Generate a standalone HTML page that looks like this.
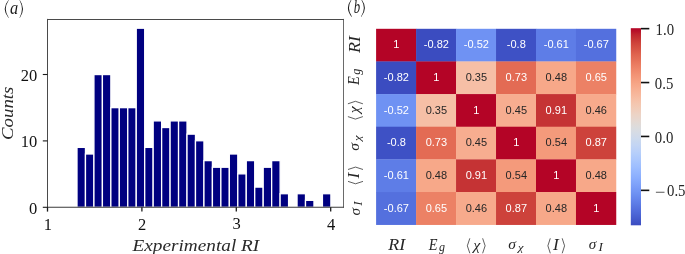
<!DOCTYPE html>
<html><head><meta charset="utf-8"><style>
html,body{margin:0;padding:0;background:#fff;overflow:hidden;width:685px;height:254px;}
svg{display:block;will-change:transform;}
</style></head><body>
<svg width="685" height="254" viewBox="0 0 685 254">
<rect x="77.00" y="147.37" width="8.463" height="59.93" fill="#000080" stroke="#fff" stroke-width="1.3"/>
<rect x="85.46" y="153.99" width="8.463" height="53.31" fill="#000080" stroke="#fff" stroke-width="1.3"/>
<rect x="93.93" y="74.55" width="8.463" height="132.75" fill="#000080" stroke="#fff" stroke-width="1.3"/>
<rect x="102.39" y="74.55" width="8.463" height="132.75" fill="#000080" stroke="#fff" stroke-width="1.3"/>
<rect x="110.85" y="107.65" width="8.463" height="99.65" fill="#000080" stroke="#fff" stroke-width="1.3"/>
<rect x="119.31" y="107.65" width="8.463" height="99.65" fill="#000080" stroke="#fff" stroke-width="1.3"/>
<rect x="127.78" y="107.65" width="8.463" height="99.65" fill="#000080" stroke="#fff" stroke-width="1.3"/>
<rect x="136.24" y="28.21" width="8.463" height="179.09" fill="#000080" stroke="#fff" stroke-width="1.3"/>
<rect x="144.70" y="147.37" width="8.463" height="59.93" fill="#000080" stroke="#fff" stroke-width="1.3"/>
<rect x="153.17" y="120.89" width="8.463" height="86.41" fill="#000080" stroke="#fff" stroke-width="1.3"/>
<rect x="161.63" y="127.51" width="8.463" height="79.79" fill="#000080" stroke="#fff" stroke-width="1.3"/>
<rect x="170.09" y="120.89" width="8.463" height="86.41" fill="#000080" stroke="#fff" stroke-width="1.3"/>
<rect x="178.56" y="120.89" width="8.463" height="86.41" fill="#000080" stroke="#fff" stroke-width="1.3"/>
<rect x="187.02" y="134.13" width="8.463" height="73.17" fill="#000080" stroke="#fff" stroke-width="1.3"/>
<rect x="195.48" y="140.75" width="8.463" height="66.55" fill="#000080" stroke="#fff" stroke-width="1.3"/>
<rect x="203.94" y="160.61" width="8.463" height="46.69" fill="#000080" stroke="#fff" stroke-width="1.3"/>
<rect x="212.41" y="167.23" width="8.463" height="40.07" fill="#000080" stroke="#fff" stroke-width="1.3"/>
<rect x="220.87" y="167.23" width="8.463" height="40.07" fill="#000080" stroke="#fff" stroke-width="1.3"/>
<rect x="229.33" y="153.99" width="8.463" height="53.31" fill="#000080" stroke="#fff" stroke-width="1.3"/>
<rect x="237.80" y="173.85" width="8.463" height="33.45" fill="#000080" stroke="#fff" stroke-width="1.3"/>
<rect x="246.26" y="160.61" width="8.463" height="46.69" fill="#000080" stroke="#fff" stroke-width="1.3"/>
<rect x="254.72" y="187.09" width="8.463" height="20.21" fill="#000080" stroke="#fff" stroke-width="1.3"/>
<rect x="263.19" y="167.23" width="8.463" height="40.07" fill="#000080" stroke="#fff" stroke-width="1.3"/>
<rect x="271.65" y="160.61" width="8.463" height="46.69" fill="#000080" stroke="#fff" stroke-width="1.3"/>
<rect x="280.11" y="193.71" width="8.463" height="13.59" fill="#000080" stroke="#fff" stroke-width="1.3"/>
<rect x="297.04" y="193.71" width="8.463" height="13.59" fill="#000080" stroke="#fff" stroke-width="1.3"/>
<rect x="305.50" y="200.33" width="8.463" height="6.97" fill="#000080" stroke="#fff" stroke-width="1.3"/>
<rect x="322.43" y="193.71" width="8.463" height="13.59" fill="#000080" stroke="#fff" stroke-width="1.3"/>
<line x1="47.5" y1="18.9" x2="47.5" y2="207.5" stroke="#4a4a4a" stroke-width="1.05"/>
<line x1="343.5" y1="18.9" x2="343.5" y2="207.5" stroke="#6a6a6a" stroke-width="1.05"/>
<line x1="47" y1="19.4" x2="344" y2="19.4" stroke="#4a4a4a" stroke-width="1.05"/>
<line x1="47" y1="207.2" x2="344" y2="207.2" stroke="#3a3a3a" stroke-width="1.05"/>
<line x1="42.80" y1="207.30" x2="47.5" y2="207.30" stroke="#1a1a1a" stroke-width="1.1"/>
<text transform="translate(29.05,213.50)" font-family='"Liberation Serif", serif' font-style="normal" font-size="16.5" fill="#111">0</text>
<line x1="42.80" y1="140.90" x2="47.5" y2="140.90" stroke="#1a1a1a" stroke-width="1.1"/>
<text transform="translate(20.80,147.10)" font-family='"Liberation Serif", serif' font-style="normal" font-size="16.5" fill="#111">10</text>
<line x1="42.80" y1="74.50" x2="47.5" y2="74.50" stroke="#1a1a1a" stroke-width="1.1"/>
<text transform="translate(20.80,80.70)" font-family='"Liberation Serif", serif' font-style="normal" font-size="16.5" fill="#111">20</text>
<line x1="47.50" y1="207.2" x2="47.50" y2="211.60" stroke="#1a1a1a" stroke-width="1.3"/>
<text transform="translate(43.67,229.54)" font-family='"Liberation Serif", serif' font-style="normal" font-size="16.5" fill="#111">1</text>
<line x1="141.90" y1="207.2" x2="141.90" y2="211.60" stroke="#1a1a1a" stroke-width="1.3"/>
<text transform="translate(138.08,229.54)" font-family='"Liberation Serif", serif' font-style="normal" font-size="16.5" fill="#111">2</text>
<line x1="236.30" y1="207.2" x2="236.30" y2="211.60" stroke="#1a1a1a" stroke-width="1.3"/>
<text transform="translate(232.48,229.46)" font-family='"Liberation Serif", serif' font-style="normal" font-size="16.5" fill="#111">3</text>
<line x1="330.70" y1="207.2" x2="330.70" y2="211.60" stroke="#1a1a1a" stroke-width="1.3"/>
<text transform="translate(326.88,229.54)" font-family='"Liberation Serif", serif' font-style="normal" font-size="16.5" fill="#111">4</text>
<text transform="translate(132.49,250.60) scale(1.1339,1)" font-family='"Liberation Serif", serif' font-style="italic" font-size="17" fill="#2a2a2a">Experimental RI</text>
<g transform="translate(12.6,0) rotate(-90)"><text transform="translate(-140.00,0.00) scale(1.0722,1)" font-family='"Liberation Serif", serif' font-style="italic" font-size="17.6" fill="#2a2a2a">Counts</text></g>
<path d="M8.50,0.10 Q0.90,9.05 8.50,18.00 L8.75,17.80 Q2.75,9.05 8.75,0.30 Z" fill="#1a1a1a"/><text transform="translate(10.10,13.70) scale(0.9111,1)" font-family='"Liberation Serif", serif' font-style="italic" font-size="18" fill="#1a1a1a">a</text><path d="M19.80,0.10 Q26.20,9.05 19.80,18.00 L19.55,17.80 Q24.35,9.05 19.55,0.30 Z" fill="#1a1a1a"/>
<path d="M351.70,-1.00 Q344.10,7.95 351.70,16.90 L351.95,16.70 Q345.95,7.95 351.95,-0.80 Z" fill="#1a1a1a"/><text transform="translate(353.80,12.80) scale(0.7111,1)" font-family='"Liberation Serif", serif' font-style="italic" font-size="18" fill="#1a1a1a">b</text><path d="M361.20,-1.00 Q368.60,7.95 361.20,16.90 L360.95,16.70 Q366.75,7.95 360.95,-0.80 Z" fill="#1a1a1a"/>
<rect x="376.10" y="28.80" width="40.27" height="32.94" fill="#b40426"/>
<rect x="416.08" y="28.80" width="40.27" height="32.94" fill="#3b4cc0"/>
<rect x="456.05" y="28.80" width="40.27" height="32.94" fill="#6f92f3"/>
<rect x="496.03" y="28.80" width="40.27" height="32.94" fill="#3e51c5"/>
<rect x="536.00" y="28.80" width="40.27" height="32.94" fill="#5e7de7"/>
<rect x="575.98" y="28.80" width="40.27" height="32.94" fill="#5470de"/>
<rect x="376.10" y="61.44" width="40.27" height="32.94" fill="#3b4cc0"/>
<rect x="416.08" y="61.44" width="40.27" height="32.94" fill="#b40426"/>
<rect x="456.05" y="61.44" width="40.27" height="32.94" fill="#f6bfa6"/>
<rect x="496.03" y="61.44" width="40.27" height="32.94" fill="#e36b54"/>
<rect x="536.00" y="61.44" width="40.27" height="32.94" fill="#f7a889"/>
<rect x="575.98" y="61.44" width="40.27" height="32.94" fill="#ec8165"/>
<rect x="376.10" y="94.08" width="40.27" height="32.94" fill="#6f92f3"/>
<rect x="416.08" y="94.08" width="40.27" height="32.94" fill="#f6bfa6"/>
<rect x="456.05" y="94.08" width="40.27" height="32.94" fill="#b40426"/>
<rect x="496.03" y="94.08" width="40.27" height="32.94" fill="#f7ad90"/>
<rect x="536.00" y="94.08" width="40.27" height="32.94" fill="#c53334"/>
<rect x="575.98" y="94.08" width="40.27" height="32.94" fill="#f7aa8c"/>
<rect x="376.10" y="126.72" width="40.27" height="32.94" fill="#3e51c5"/>
<rect x="416.08" y="126.72" width="40.27" height="32.94" fill="#e36b54"/>
<rect x="456.05" y="126.72" width="40.27" height="32.94" fill="#f7ad90"/>
<rect x="496.03" y="126.72" width="40.27" height="32.94" fill="#b40426"/>
<rect x="536.00" y="126.72" width="40.27" height="32.94" fill="#f49a7b"/>
<rect x="575.98" y="126.72" width="40.27" height="32.94" fill="#cd423b"/>
<rect x="376.10" y="159.37" width="40.27" height="32.94" fill="#5e7de7"/>
<rect x="416.08" y="159.37" width="40.27" height="32.94" fill="#f7a889"/>
<rect x="456.05" y="159.37" width="40.27" height="32.94" fill="#c53334"/>
<rect x="496.03" y="159.37" width="40.27" height="32.94" fill="#f49a7b"/>
<rect x="536.00" y="159.37" width="40.27" height="32.94" fill="#b40426"/>
<rect x="575.98" y="159.37" width="40.27" height="32.94" fill="#f7a889"/>
<rect x="376.10" y="192.01" width="40.27" height="32.94" fill="#5470de"/>
<rect x="416.08" y="192.01" width="40.27" height="32.94" fill="#ec8165"/>
<rect x="456.05" y="192.01" width="40.27" height="32.94" fill="#f7aa8c"/>
<rect x="496.03" y="192.01" width="40.27" height="32.94" fill="#cd423b"/>
<rect x="536.00" y="192.01" width="40.27" height="32.94" fill="#f7a889"/>
<rect x="575.98" y="192.01" width="40.27" height="32.94" fill="#b40426"/>
<text transform="translate(393.34,48.32)" font-family='"Liberation Sans", sans-serif' font-style="normal" font-size="11.0" fill="#fff">1</text>
<text transform="translate(423.82,48.32)" font-family='"Liberation Sans", sans-serif' font-style="normal" font-size="11.0" fill="#fff">-0.82</text>
<text transform="translate(463.80,48.32)" font-family='"Liberation Sans", sans-serif' font-style="normal" font-size="11.0" fill="#fff">-0.52</text>
<text transform="translate(506.82,48.32)" font-family='"Liberation Sans", sans-serif' font-style="normal" font-size="11.0" fill="#fff">-0.8</text>
<text transform="translate(543.75,48.32)" font-family='"Liberation Sans", sans-serif' font-style="normal" font-size="11.0" fill="#fff">-0.61</text>
<text transform="translate(583.72,48.32)" font-family='"Liberation Sans", sans-serif' font-style="normal" font-size="11.0" fill="#fff">-0.67</text>
<text transform="translate(383.85,80.96)" font-family='"Liberation Sans", sans-serif' font-style="normal" font-size="11.0" fill="#fff">-0.82</text>
<text transform="translate(433.31,80.96)" font-family='"Liberation Sans", sans-serif' font-style="normal" font-size="11.0" fill="#fff">1</text>
<text transform="translate(465.64,80.96)" font-family='"Liberation Sans", sans-serif' font-style="normal" font-size="11.0" fill="#262626">0.35</text>
<text transform="translate(505.62,80.96)" font-family='"Liberation Sans", sans-serif' font-style="normal" font-size="11.0" fill="#fff">0.73</text>
<text transform="translate(545.59,80.96)" font-family='"Liberation Sans", sans-serif' font-style="normal" font-size="11.0" fill="#262626">0.48</text>
<text transform="translate(585.57,80.96)" font-family='"Liberation Sans", sans-serif' font-style="normal" font-size="11.0" fill="#fff">0.65</text>
<text transform="translate(383.85,113.60)" font-family='"Liberation Sans", sans-serif' font-style="normal" font-size="11.0" fill="#fff">-0.52</text>
<text transform="translate(425.67,113.60)" font-family='"Liberation Sans", sans-serif' font-style="normal" font-size="11.0" fill="#262626">0.35</text>
<text transform="translate(473.29,113.60)" font-family='"Liberation Sans", sans-serif' font-style="normal" font-size="11.0" fill="#fff">1</text>
<text transform="translate(505.62,113.60)" font-family='"Liberation Sans", sans-serif' font-style="normal" font-size="11.0" fill="#262626">0.45</text>
<text transform="translate(545.59,113.60)" font-family='"Liberation Sans", sans-serif' font-style="normal" font-size="11.0" fill="#fff">0.91</text>
<text transform="translate(585.57,113.60)" font-family='"Liberation Sans", sans-serif' font-style="normal" font-size="11.0" fill="#262626">0.46</text>
<text transform="translate(386.90,146.24)" font-family='"Liberation Sans", sans-serif' font-style="normal" font-size="11.0" fill="#fff">-0.8</text>
<text transform="translate(425.67,146.24)" font-family='"Liberation Sans", sans-serif' font-style="normal" font-size="11.0" fill="#fff">0.73</text>
<text transform="translate(465.64,146.24)" font-family='"Liberation Sans", sans-serif' font-style="normal" font-size="11.0" fill="#262626">0.45</text>
<text transform="translate(513.26,146.24)" font-family='"Liberation Sans", sans-serif' font-style="normal" font-size="11.0" fill="#fff">1</text>
<text transform="translate(545.59,146.24)" font-family='"Liberation Sans", sans-serif' font-style="normal" font-size="11.0" fill="#262626">0.54</text>
<text transform="translate(585.57,146.24)" font-family='"Liberation Sans", sans-serif' font-style="normal" font-size="11.0" fill="#fff">0.87</text>
<text transform="translate(383.85,178.88)" font-family='"Liberation Sans", sans-serif' font-style="normal" font-size="11.0" fill="#fff">-0.61</text>
<text transform="translate(425.67,178.88)" font-family='"Liberation Sans", sans-serif' font-style="normal" font-size="11.0" fill="#262626">0.48</text>
<text transform="translate(465.64,178.88)" font-family='"Liberation Sans", sans-serif' font-style="normal" font-size="11.0" fill="#fff">0.91</text>
<text transform="translate(505.62,178.88)" font-family='"Liberation Sans", sans-serif' font-style="normal" font-size="11.0" fill="#262626">0.54</text>
<text transform="translate(553.24,178.88)" font-family='"Liberation Sans", sans-serif' font-style="normal" font-size="11.0" fill="#fff">1</text>
<text transform="translate(585.57,178.88)" font-family='"Liberation Sans", sans-serif' font-style="normal" font-size="11.0" fill="#262626">0.48</text>
<text transform="translate(383.85,211.52)" font-family='"Liberation Sans", sans-serif' font-style="normal" font-size="11.0" fill="#fff">-0.67</text>
<text transform="translate(425.67,211.52)" font-family='"Liberation Sans", sans-serif' font-style="normal" font-size="11.0" fill="#fff">0.65</text>
<text transform="translate(465.64,211.52)" font-family='"Liberation Sans", sans-serif' font-style="normal" font-size="11.0" fill="#262626">0.46</text>
<text transform="translate(505.62,211.52)" font-family='"Liberation Sans", sans-serif' font-style="normal" font-size="11.0" fill="#fff">0.87</text>
<text transform="translate(545.59,211.52)" font-family='"Liberation Sans", sans-serif' font-style="normal" font-size="11.0" fill="#262626">0.48</text>
<text transform="translate(593.21,211.52)" font-family='"Liberation Sans", sans-serif' font-style="normal" font-size="11.0" fill="#fff">1</text>
<g transform="translate(396.09,249.5)"><text transform="translate(-7.82,0.00) scale(1.0842,1)" font-family='"Liberation Serif", serif' font-style="italic" font-size="16.5" fill="#262626">RI</text></g>
<g transform="translate(436.06,249.5)"><text transform="translate(-7.28,0.00) scale(0.8727,1)" font-family='"Liberation Serif", serif' font-style="italic" font-size="16.5" fill="#262626">E</text><text transform="translate(2.90,1.40) scale(1.0435,1)" font-family='"Liberation Serif", serif' font-style="italic" font-size="11.5" fill="#262626">g</text></g>
<g transform="translate(476.04,249.5)"><path d="M-6.20,-11.20 L-8.70,-3.70 L-6.20,3.80" fill="none" stroke="#1a1a1a" stroke-width="0.7" stroke-linejoin="miter"/><text transform="translate(-2.74,0.30) scale(1.0323,1)" font-family='"Liberation Serif", serif' font-style="italic" font-size="15.5" fill="#262626">χ</text><path d="M6.60,-11.20 L9.10,-3.70 L6.60,3.80" fill="none" stroke="#1a1a1a" stroke-width="0.7" stroke-linejoin="miter"/></g>
<g transform="translate(516.01,249.5)"><text transform="translate(-7.70,-0.30) scale(1.0413,1)" font-family='"Liberation Serif", serif' font-style="italic" font-size="15.0" fill="#262626">σ</text><text transform="translate(1.95,1.30) scale(1.1775,1)" font-family='"Liberation Serif", serif' font-style="italic" font-size="10.5" fill="#262626">χ</text></g>
<g transform="translate(555.99,249.5)"><path d="M-5.70,-11.20 L-8.10,-3.70 L-5.70,3.80" fill="none" stroke="#1a1a1a" stroke-width="0.7" stroke-linejoin="miter"/><text transform="translate(-2.91,0.00) scale(1.0526,1)" font-family='"Liberation Serif", serif' font-style="italic" font-size="16.5" fill="#262626">I</text><path d="M6.20,-11.20 L8.60,-3.70 L6.20,3.80" fill="none" stroke="#1a1a1a" stroke-width="0.7" stroke-linejoin="miter"/></g>
<g transform="translate(595.96,249.5)"><text transform="translate(-7.20,-0.20) scale(1.0159,1)" font-family='"Liberation Serif", serif' font-style="italic" font-size="15.0" fill="#262626">σ</text><text transform="translate(2.57,1.60) scale(1.1442,1)" font-family='"Liberation Serif", serif' font-style="italic" font-size="11.5" fill="#262626">I</text></g>
<g transform="translate(359.9,45.12) rotate(-90)"><text transform="translate(-7.82,0.00) scale(1.0842,1)" font-family='"Liberation Serif", serif' font-style="italic" font-size="16.5" fill="#262626">RI</text></g>
<g transform="translate(359.0,77.76) rotate(-90)"><text transform="translate(-7.28,0.00) scale(0.8727,1)" font-family='"Liberation Serif", serif' font-style="italic" font-size="16.5" fill="#262626">E</text><text transform="translate(2.90,1.40) scale(1.0435,1)" font-family='"Liberation Serif", serif' font-style="italic" font-size="11.5" fill="#262626">g</text></g>
<g transform="translate(359.1,110.40) rotate(-90)"><path d="M-6.20,-11.20 L-8.70,-3.70 L-6.20,3.80" fill="none" stroke="#1a1a1a" stroke-width="0.7" stroke-linejoin="miter"/><text transform="translate(-2.74,0.30) scale(1.0323,1)" font-family='"Liberation Serif", serif' font-style="italic" font-size="15.5" fill="#262626">χ</text><path d="M6.60,-11.20 L9.10,-3.70 L6.60,3.80" fill="none" stroke="#1a1a1a" stroke-width="0.7" stroke-linejoin="miter"/></g>
<g transform="translate(359.2,143.05) rotate(-90)"><text transform="translate(-7.70,-0.30) scale(1.0413,1)" font-family='"Liberation Serif", serif' font-style="italic" font-size="15.0" fill="#262626">σ</text><text transform="translate(1.95,1.30) scale(1.1775,1)" font-family='"Liberation Serif", serif' font-style="italic" font-size="10.5" fill="#262626">χ</text></g>
<g transform="translate(359.2,175.69) rotate(-90)"><path d="M-5.70,-11.20 L-8.10,-3.70 L-5.70,3.80" fill="none" stroke="#1a1a1a" stroke-width="0.7" stroke-linejoin="miter"/><text transform="translate(-2.91,0.00) scale(1.0526,1)" font-family='"Liberation Serif", serif' font-style="italic" font-size="16.5" fill="#262626">I</text><path d="M6.20,-11.20 L8.60,-3.70 L6.20,3.80" fill="none" stroke="#1a1a1a" stroke-width="0.7" stroke-linejoin="miter"/></g>
<g transform="translate(359.9,208.33) rotate(-90)"><text transform="translate(-7.20,-0.20) scale(1.0159,1)" font-family='"Liberation Serif", serif' font-style="italic" font-size="15.0" fill="#262626">σ</text><text transform="translate(2.57,1.60) scale(1.1442,1)" font-family='"Liberation Serif", serif' font-style="italic" font-size="11.5" fill="#262626">I</text></g>
<defs><linearGradient id="cb" x1="0" y1="0" x2="0" y2="1"><stop offset="0.0000" stop-color="#b40426"/><stop offset="0.0156" stop-color="#b8122a"/><stop offset="0.0312" stop-color="#be242e"/><stop offset="0.0469" stop-color="#c43032"/><stop offset="0.0625" stop-color="#ca3b37"/><stop offset="0.0781" stop-color="#cf453c"/><stop offset="0.0938" stop-color="#d44e41"/><stop offset="0.1094" stop-color="#d85646"/><stop offset="0.1250" stop-color="#dd5f4b"/><stop offset="0.1406" stop-color="#e16751"/><stop offset="0.1562" stop-color="#e46e56"/><stop offset="0.1719" stop-color="#e8765c"/><stop offset="0.1875" stop-color="#eb7d62"/><stop offset="0.2031" stop-color="#ee8468"/><stop offset="0.2188" stop-color="#f08b6e"/><stop offset="0.2344" stop-color="#f29274"/><stop offset="0.2500" stop-color="#f4987a"/><stop offset="0.2656" stop-color="#f59f80"/><stop offset="0.2812" stop-color="#f6a586"/><stop offset="0.2969" stop-color="#f7aa8c"/><stop offset="0.3125" stop-color="#f7b093"/><stop offset="0.3281" stop-color="#f7b599"/><stop offset="0.3438" stop-color="#f7ba9f"/><stop offset="0.3594" stop-color="#f6bfa6"/><stop offset="0.3750" stop-color="#f5c4ac"/><stop offset="0.3906" stop-color="#f3c8b2"/><stop offset="0.4062" stop-color="#f1ccb8"/><stop offset="0.4219" stop-color="#efcfbf"/><stop offset="0.4375" stop-color="#ecd3c5"/><stop offset="0.4531" stop-color="#e9d5cb"/><stop offset="0.4688" stop-color="#e5d8d1"/><stop offset="0.4844" stop-color="#e1dad6"/><stop offset="0.5000" stop-color="#dddcdc"/><stop offset="0.5156" stop-color="#d9dce1"/><stop offset="0.5312" stop-color="#d5dbe5"/><stop offset="0.5469" stop-color="#d1dae9"/><stop offset="0.5625" stop-color="#ccd9ed"/><stop offset="0.5781" stop-color="#c7d7f0"/><stop offset="0.5938" stop-color="#c3d5f4"/><stop offset="0.6094" stop-color="#bed2f6"/><stop offset="0.6250" stop-color="#b9d0f9"/><stop offset="0.6406" stop-color="#b3cdfb"/><stop offset="0.6562" stop-color="#aec9fc"/><stop offset="0.6719" stop-color="#a9c6fd"/><stop offset="0.6875" stop-color="#a3c2fe"/><stop offset="0.7031" stop-color="#9ebeff"/><stop offset="0.7188" stop-color="#98b9ff"/><stop offset="0.7344" stop-color="#93b5fe"/><stop offset="0.7500" stop-color="#8db0fe"/><stop offset="0.7656" stop-color="#88abfd"/><stop offset="0.7812" stop-color="#82a6fb"/><stop offset="0.7969" stop-color="#7da0f9"/><stop offset="0.8125" stop-color="#779af7"/><stop offset="0.8281" stop-color="#7295f4"/><stop offset="0.8438" stop-color="#6c8ff1"/><stop offset="0.8594" stop-color="#6788ee"/><stop offset="0.8750" stop-color="#6282ea"/><stop offset="0.8906" stop-color="#5d7ce6"/><stop offset="0.9062" stop-color="#5875e1"/><stop offset="0.9219" stop-color="#536edd"/><stop offset="0.9375" stop-color="#4e68d8"/><stop offset="0.9531" stop-color="#4961d2"/><stop offset="0.9688" stop-color="#445acc"/><stop offset="0.9844" stop-color="#3f53c6"/><stop offset="1.0000" stop-color="#3b4cc0"/></linearGradient></defs>
<rect x="630.8" y="28.2" width="10.20" height="197.10" fill="url(#cb)"/>
<line x1="641.0" y1="28.65" x2="649.30" y2="28.65" stroke="#111" stroke-width="1.6"/>
<text transform="translate(655.60,34.71) scale(0.8970,1)" font-family='"Liberation Serif", serif' font-style="normal" font-size="16.5" fill="#262626">1.0</text>
<line x1="641.0" y1="82.55" x2="649.30" y2="82.55" stroke="#111" stroke-width="1.6"/>
<text transform="translate(654.80,88.61) scale(0.8970,1)" font-family='"Liberation Serif", serif' font-style="normal" font-size="16.5" fill="#262626">0.5</text>
<line x1="641.0" y1="136.45" x2="649.30" y2="136.45" stroke="#111" stroke-width="1.6"/>
<text transform="translate(654.80,142.51) scale(0.8970,1)" font-family='"Liberation Serif", serif' font-style="normal" font-size="16.5" fill="#262626">0.0</text>
<line x1="641.0" y1="190.35" x2="649.30" y2="190.35" stroke="#111" stroke-width="1.6"/>
<text transform="translate(667.00,196.41) scale(0.8970,1)" font-family='"Liberation Serif", serif' font-style="normal" font-size="16.5" fill="#262626">0.5</text>
<line x1="655.9" y1="192.25" x2="664.5" y2="192.25" stroke="#222" stroke-width="0.75"/>
</svg>
</body></html>
